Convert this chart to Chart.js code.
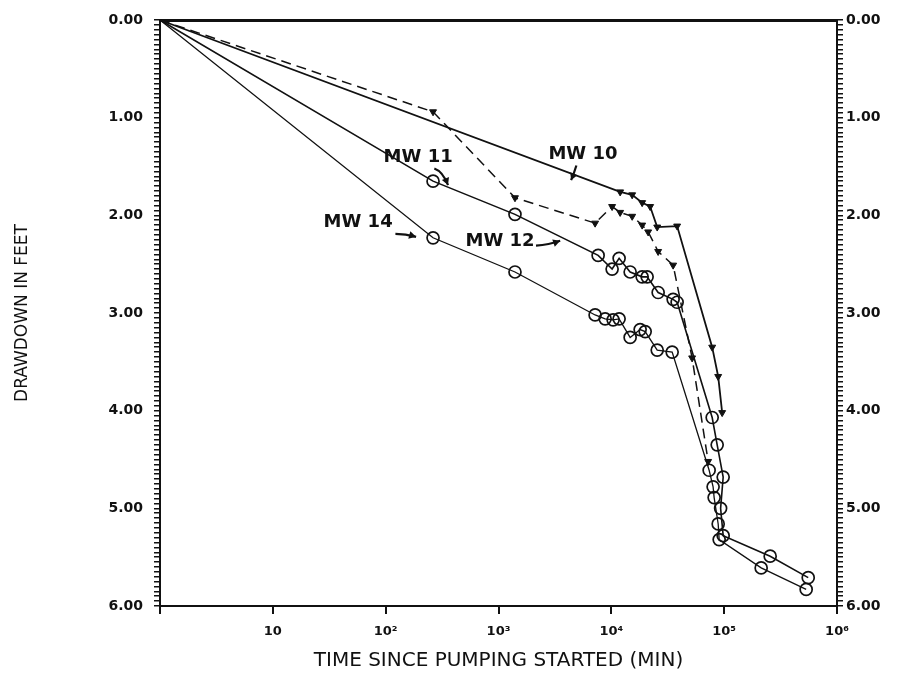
<!DOCTYPE html>
<html>
<head>
<meta charset="utf-8">
<script src="https://cdn.jsdelivr.net/npm/chart.js@4.4.1/dist/chart.umd.min.js"></script>
<style>
  html, body { margin: 0; padding: 0; background: #fff; }
  canvas { display: block; }
</style>
</head>
<body>
<canvas id="c" width="897" height="675"></canvas>
<script>
// Time since pumping started (min) and drawdown (ft) for each monitoring well
const mw10Time     = [1, 11970, 15300, 18760, 22080, 25500, 38300, 78300, 88500, 96000];
const mw10Drawdown = [0, 1.76, 1.79, 1.87, 1.91, 2.12, 2.11, 3.35, 3.65, 4.02];

const mw12Time     = [1, 263, 1400, 7180, 10160, 11970, 15300, 18760, 21200, 26000, 35300, 52000, 72100];
const mw12Drawdown = [0, 0.94, 1.82, 2.08, 1.91, 1.97, 2.01, 2.10, 2.17, 2.37, 2.51, 3.46, 4.52];

const mw11Time     = [1, 263, 1400, 7640, 10160, 11720, 14680, 18760, 20760, 26000, 35300, 38300, 78300, 86700, 98000, 93000, 98000, 255700, 555800];
const mw11Drawdown = [0, 1.65, 1.99, 2.41, 2.55, 2.44, 2.58, 2.63, 2.63, 2.79, 2.86, 2.89, 4.07, 4.35, 4.68, 5.00, 5.28, 5.49, 5.71];

const mw14Time     = [1, 263, 1400, 7180, 8810, 10370, 11720, 14680, 18000, 19950, 25500, 34600, 73600, 79800, 81500, 88500, 90300, 212800, 533000];
const mw14Drawdown = [0, 2.23, 2.58, 3.02, 3.06, 3.07, 3.06, 3.25, 3.17, 3.19, 3.38, 3.40, 4.61, 4.78, 4.89, 5.16, 5.32, 5.61, 5.83];

// Axis tick labels
const timeTicks   = [1, 10, 100, 1000, 10000, 100000, 1000000];
const timeLabels  = ['', '10', '10\u00B2', '10\u00B3', '10\u2074', '10\u2075', '10\u2076'];
const depthMajor  = [0, 1, 2, 3, 4, 5, 6];
const depthLabels = ['0.00', '1.00', '2.00', '3.00', '4.00', '5.00', '6.00'];

// Well callouts: label position and arrow (start, bend, tip), in data units
const callouts = [
  { text: 'MW 10', at: [5600, 1.38], from: [4900, 1.49], bend: [4700, 1.56], to: [4400, 1.64] },
  { text: 'MW 11', at: [194, 1.41],  from: [270, 1.52],  bend: [320, 1.55],  to: [357, 1.69] },
  { text: 'MW 14', at: [57, 2.07],   from: [122, 2.19],  bend: [150, 2.19],  to: [186, 2.22] },
  { text: 'MW 12', at: [1033, 2.27], from: [2150, 2.31], bend: [2800, 2.30], to: [3520, 2.26] }
];

const ink = '#111';
const FONT = '"DejaVu Sans", "Liberation Sans", Arial, sans-serif';
const toPoints = (t, d) => t.map((x, i) => ({ x, y: d[i] }));

// minor ticks every 0.05 ft, labelled only at whole feet
const depthTicks = [];
for (let i = 0; i <= 120; i++) depthTicks.push({ value: i / 20 });
function depthLabel(v) {
  const k = depthMajor.indexOf(Math.round(v * 20) / 20);
  return k >= 0 ? depthLabels[k] : '';
}

const calloutPlugin = {
  id: 'callouts',
  afterDatasetsDraw(chart) {
    const { ctx, scales: { x, y } } = chart;
    const px = p => [x.getPixelForValue(p[0]), y.getPixelForValue(p[1])];
    ctx.save();
    ctx.fillStyle = ink;
    ctx.strokeStyle = ink;
    ctx.font = 'bold 18px ' + FONT;
    ctx.textAlign = 'center';
    ctx.textBaseline = 'middle';
    callouts.forEach(c => {
      const [tx, ty] = px(c.at);
      ctx.fillText(c.text, tx, ty);
      const [x0, y0] = px(c.from), [xb, yb] = px(c.bend), [x1, y1] = px(c.to);
      ctx.lineWidth = 2.2;
      ctx.beginPath();
      ctx.moveTo(x0, y0);
      ctx.quadraticCurveTo(xb, yb, x1, y1);
      ctx.stroke();
      const a = Math.atan2(y1 - yb, x1 - xb), h = 8;
      ctx.beginPath();
      ctx.moveTo(x1, y1);
      ctx.lineTo(x1 - h * Math.cos(a - 0.5), y1 - h * Math.sin(a - 0.5));
      ctx.lineTo(x1 - h * Math.cos(a + 0.5), y1 - h * Math.sin(a + 0.5));
      ctx.closePath();
      ctx.fill();
    });
    ctx.restore();
  }
};

const hideFirst = r => ctx => (ctx.dataIndex === 0 ? 0 : r);

function series(label, t, d, opts) {
  return Object.assign({
    label,
    data: toPoints(t, d),
    borderColor: ink,
    backgroundColor: ink,
    pointBorderColor: ink,
    borderWidth: 1.5,
    tension: 0,
    clip: false
  }, opts);
}

const triangleMarks = {
  pointStyle: 'triangle',
  rotation: 180,
  pointRadius: hideFirst(4),
  pointBackgroundColor: ink,
  pointBorderWidth: 1
};
const circleMarks = {
  pointStyle: 'circle',
  pointRadius: hideFirst(6),
  pointBackgroundColor: 'rgba(0,0,0,0)',
  pointBorderWidth: 1.7
};

const tickFont = { family: FONT, size: 14, weight: 'bold' };

new Chart(document.getElementById('c'), {
  type: 'line',
  data: {
    datasets: [
      series('MW 10', mw10Time, mw10Drawdown, Object.assign({ borderWidth: 1.8 }, triangleMarks)),
      series('MW 12', mw12Time, mw12Drawdown, Object.assign({ borderDash: [10, 6] }, triangleMarks)),
      series('MW 11', mw11Time, mw11Drawdown, Object.assign({ borderWidth: 1.6 }, circleMarks)),
      series('MW 14', mw14Time, mw14Drawdown, Object.assign({ borderWidth: 1.3 }, circleMarks))
    ]
  },
  options: {
    responsive: false,
    animation: false,
    events: [],
    layout: { padding: 0 },
    plugins: { legend: { display: false }, tooltip: { enabled: false } },
    scales: {
      x: {
        type: 'logarithmic',
        position: 'bottom',
        min: 1, max: 1000000,
        afterBuildTicks: s => { s.ticks = timeTicks.map(v => ({ value: v })); },
        afterFit: s => { s.height = 69; },
        ticks: {
          autoSkip: false, maxRotation: 0, padding: 10, color: ink,
          font: { family: FONT, size: 13, weight: 'bold' },
          callback: v => timeLabels[timeTicks.indexOf(v)] ?? ''
        },
        grid: { display: true, drawOnChartArea: false, drawTicks: true, tickLength: 8, color: ink, lineWidth: 2 },
        border: { display: true, color: ink, width: 2 },
        title: {
          display: true, text: 'TIME SINCE PUMPING STARTED (MIN)', color: ink,
          font: { family: FONT, size: 20 }, padding: { top: 0, bottom: 2 }
        }
      },
      xTop: {
        type: 'logarithmic',
        position: 'top',
        min: 1, max: 1000000,
        afterFit: s => { s.height = 20; },
        ticks: { display: false },
        grid: { display: false },
        border: { display: true, color: ink, width: 3 }
      },
      y: {
        type: 'linear',
        position: 'left',
        reverse: true,
        min: 0, max: 6,
        afterBuildTicks: s => { s.ticks = depthTicks.map(t => ({ value: t.value })); },
        afterFit: s => { s.width = 160; },
        ticks: {
          autoSkip: false, padding: 11, color: ink,
          font: tickFont,
          callback: depthLabel
        },
        grid: { display: true, drawOnChartArea: false, drawTicks: true, tickLength: 6, color: ink, lineWidth: 1.5 },
        border: { display: true, color: ink, width: 2 },
        title: {
          display: true, text: 'DRAWDOWN IN FEET', color: ink,
          font: { family: FONT, size: 17 }, padding: { top: 12, bottom: 0 }
        }
      },
      yRight: {
        type: 'linear',
        position: 'right',
        display: true,
        reverse: true,
        min: 0, max: 6,
        afterBuildTicks: s => { s.ticks = depthTicks.map(t => ({ value: t.value })); },
        afterFit: s => { s.width = 60; },
        ticks: {
          autoSkip: false, padding: 3, color: ink,
          font: tickFont,
          callback: depthLabel
        },
        grid: { display: true, drawOnChartArea: false, drawTicks: true, tickLength: 6, color: ink, lineWidth: 1.5 },
        border: { display: true, color: ink, width: 2 }
      }
    }
  },
  plugins: [calloutPlugin]
});
</script>
</body>
</html>
